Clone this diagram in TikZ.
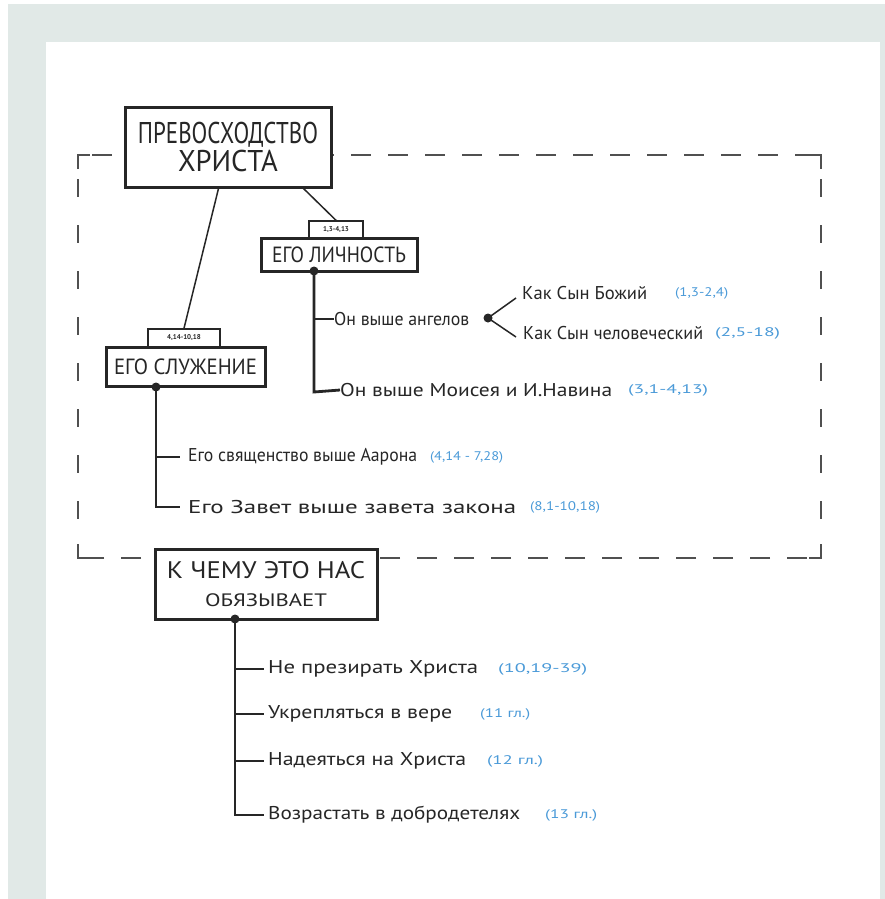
\documentclass[tikz,border=0pt]{standalone}
\usepackage{fontspec}
\usepackage{graphicx}
\setmainfont{PT Sans}
\usetikzlibrary{calc}
\definecolor{panel}{HTML}{E1E9E7}
\definecolor{ink}{HTML}{262626}
\definecolor{refc}{HTML}{4A9AD8}
\definecolor{dashc}{HTML}{505050}
\newcommand\W[2]{\resizebox{#1pt}{\height}{#2}}
\begin{document}
\begin{tikzpicture}[x=1pt,y=-1pt,
  box/.style={draw=ink, line width=3pt, fill=white, inner sep=0pt, align=center, text=ink},
  tabbox/.style={draw=ink, line width=1.4pt, fill=white, inner sep=0pt, text=ink, font=\bfseries\fontsize{7}{8}\selectfont},
  txt/.style={anchor=west, inner sep=0pt, text=ink, font=\fontsize{18.5}{20}\selectfont},
  reftxt/.style={anchor=west, inner sep=0pt, text=refc, font=\fontsize{12.5}{14}\selectfont},
  tree/.style={draw=ink, line width=2.8pt},
  link/.style={draw=ink, line width=1.5pt},
  dotn/.style={circle, fill=ink, inner sep=0pt, minimum size=9pt},
  hdash/.style={draw=dashc, line width=2pt, dash pattern=on 20pt off 17pt},
  vdash/.style={draw=dashc, line width=2pt, dash pattern=on 18pt off 28pt},
  cornerl/.style={draw=dashc, line width=2pt}
]
\useasboundingbox (0,0) rectangle (885,899);
\fill[white] (0,0) rectangle (885,899);
\fill[panel] (8,4) rectangle (885,899);
\fill[white] (46,42) rectangle (880,899);

% dashed frame
\coordinate (ftl) at (78,155);
\coordinate (ftr) at (821,155);
\coordinate (fbl) at (78,558);
\coordinate (fbr) at (821,558);
\draw[hdash] ($(ftl)+(14,0)$) -- (ftr);
\draw[hdash] ($(fbr)+(-14,0)$) -- (fbl);
\draw[vdash] ($(ftl)+(0,24)$) -- (fbl);
\draw[vdash] ($(ftr)+(0,24)$) -- (fbr);
\draw[cornerl] ($(ftl)+(0,14)$) -- (ftl) -- ($(ftl)+(12,0)$);
\draw[cornerl] ($(ftr)+(-12,0)$) -- (ftr) -- ($(ftr)+(0,14)$);
\draw[cornerl] ($(fbl)+(0,-14)$) -- (fbl) -- ($(fbl)+(12,0)$);
\draw[cornerl] ($(fbr)+(-12,0)$) -- (fbr) -- ($(fbr)+(0,-14)$);

% title
\node[box, minimum width=206pt, minimum height=80pt, font=\fontsize{30}{28}\selectfont] (title) at (228,147)
  {\W{180}{ПРЕВОСХОДСТВО}\\\W{100}{ХРИСТА}};

% person branch
\node[tabbox, minimum width=54pt, minimum height=17pt] (tabL) at (336,229.5) {1,3-4,13};
\node[box, minimum width=156pt, minimum height=33pt, font=\fontsize{22}{24}\selectfont] (boxL) at (339,254.5)
  {\W{134}{ЕГО ЛИЧНОСТЬ}};
\draw[link] ($(title.south west)+(180,0)$) -- (tabL.north);

% ministry branch
\node[tabbox, minimum width=72pt, minimum height=18pt] (tabS) at (184,338) {4,14-10,18};
\node[box, minimum width=159pt, minimum height=39pt, font=\fontsize{22}{24}\selectfont] (boxS) at (185.5,366.5)
  {\W{143}{ЕГО СЛУЖЕНИЕ}};
\draw[link] ($(title.south west)+(95,0)$) -- (tabS.north);

% person items
\node[dotn] (dL) at (314,271) {};
\coordinate (eL) at (314,392);
\node[txt] (l1) at (334,319) {\W{135}{Он выше ангелов}};
\node[dotn] (dA) at (488,318) {};
\node[txt] (l1a) at (522,293) {\W{125}{Как Сын Божий}};
\node[reftxt] (r1a) at (675,293) {\W{53}{(1,3-2,4)}};
\node[txt] (l1b) at (523,333) {\W{180}{Как Сын человеческий}};
\node[reftxt] (r1b) at (715,333) {\W{65}{(2,5-18)}};
\node[txt] (l2) at (340,390) {\W{272}{Он выше Моисея и И.Навина}};
\node[reftxt] (r2) at (628,390) {\W{80}{(3,1-4,13)}};
\draw[tree] (dL.center) -- (eL) -- (l2.west);
\draw[tree] (dL.center |- l1.west) -- (l1.west);
\draw[link] (dA.center) -- ($(l1a.west)+(-6,5)$);
\draw[link] (dA.center) -- ($(l1b.west)+(-7,4)$);

% ministry items
\node[dotn] (dS) at (156,387) {};
\coordinate (eS) at (156,507);
\node[txt] (s1) at (188,457) {\W{229}{Его священство выше Аарона}};
\node[reftxt] (rs1) at (430,457) {\W{73}{(4,14 - 7,28)}};
\node[txt] (s2) at (188,507) {\W{328}{Его Завет выше завета закона}};
\node[reftxt] (rs2) at (530,507) {\W{70}{(8,1-10,18)}};
\draw[tree] (dS.center) -- (eS) -- ($(s2.west)+(-8,0)$);
\draw[tree] (dS.center |- s1.west) -- ($(s1.west)+(-8,0)$);

% obligations
\node[box, minimum width=222pt, minimum height=70pt, font=\fontsize{24}{28}\selectfont] (boxK) at (266,584)
  {\W{198}{К ЧЕМУ ЭТО НАС}\\\W{122}{\fontsize{18}{20}\selectfont ОБЯЗЫВАЕТ}};
\node[dotn] (dK) at (235,619) {};
\coordinate (eK) at (235,815);
\node[txt] (k1) at (268,669) {\W{210}{Не презирать Христа}};
\node[reftxt] (rk1) at (498,669) {\W{89}{(10,19-39)}};
\node[txt] (k2) at (268,714) {\W{184}{Укрепляться в вере}};
\node[reftxt] (rk2) at (480,714) {\W{50}{(11 гл.)}};
\node[txt] (k3) at (268,761) {\W{198}{Надеяться на Христа}};
\node[reftxt] (rk3) at (487,761) {\W{56}{(12 гл.)}};
\node[txt] (k4) at (268,815) {\W{252}{Возрастать в добродетелях}};
\node[reftxt] (rk4) at (545,815) {\W{52}{(13 гл.)}};
\draw[tree] (dK.center) -- (eK) -- ($(k4.west)+(-4,0)$);
\draw[tree] (dK.center |- k1.west) -- ($(k1.west)+(-4,0)$);
\draw[tree] (dK.center |- k2.west) -- ($(k2.west)+(-4,0)$);
\draw[tree] (dK.center |- k3.west) -- ($(k3.west)+(-4,0)$);
\end{tikzpicture}
\end{document}
